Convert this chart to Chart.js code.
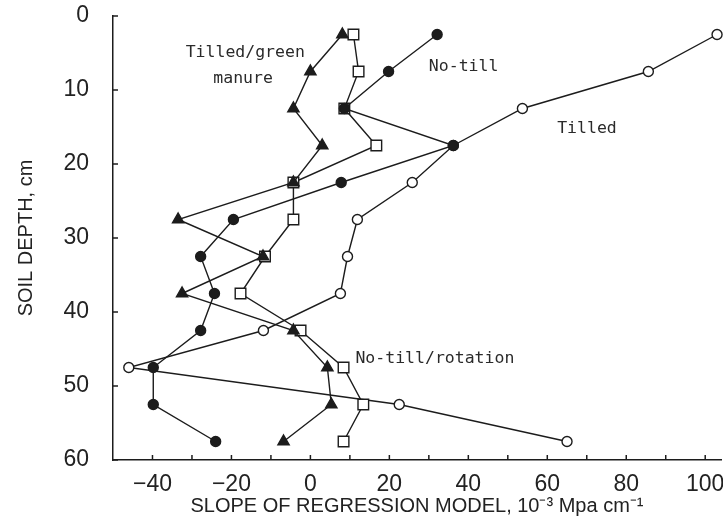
<!DOCTYPE html>
<html>
<head>
<meta charset="utf-8">
<script src="https://cdn.jsdelivr.net/npm/chart.js@4/dist/chart.umd.min.js"></script>
<style>
  html, body { margin: 0; padding: 0; background: #fff; }
  #wrap { width: 723px; height: 520px; }
</style>
</head>
<body>
<div id="wrap"><canvas id="depthChart" width="723" height="520"></canvas></div>
<script>
/* DATA */
const depths = [2.5, 7.5, 12.5, 17.5, 22.5, 27.5, 32.5, 37.5, 42.5, 47.5, 52.5, 57.5];
const tilled = [103, 85.6, 53.7, 36.2, 25.8, 11.9, 9.4, 7.6, -11.9, -46, 22.5, 65];
const noTill = [32.1, 19.8, 8.6, 36.2, 7.8, -19.5, -27.8, -24.3, -27.8, -39.8, -39.8, -24];
const greenManure = [8.1, 0, -4.3, 3, -4.3, -33.5, -12, -32.5, -4.3, 4.3, 5.3, -6.8];
const rotation = [10.9, 12.2, 8.6, 16.7, -4.3, -4.3, -11.5, -17.7, -2.5, 8.4, 13.4, 8.4];

const xTicks = [-40, -20, 0, 20, 40, 60, 80, 100];
const yTicks = [0, 10, 20, 30, 40, 50, 60];

/* in-plot labels, placed in data units */
const notes = [
  { text: "Tilled/green", x: -31.6, y: 4.9 },
  { text: "manure", x: -24.6, y: 8.5 },
  { text: "No-till", x: 30, y: 6.9 },
  { text: "Tilled", x: 62.5, y: 15.2 },
  { text: "No-till/rotation", x: 11.4, y: 46.3 },
];

const ink = "#1c1c1c";
const pts = (vals) => vals.map((v, i) => ({ x: v, y: depths[i] }));

function series(label, vals, style, fill, radius, order) {
  return {
    label,
    data: pts(vals),
    showLine: true,
    borderColor: ink,
    borderWidth: 1.4,
    pointStyle: style,
    pointRadius: radius,
    pointHoverRadius: radius,
    pointBorderWidth: 1.4,
    pointBorderColor: ink,
    pointBackgroundColor: fill,
    order,
  };
}

/* inward tick marks + text notes */
const extras = {
  id: "extras",
  afterDraw(chart) {
    const { ctx, scales } = chart;
    const xs = scales.x, ys = scales.y;
    ctx.save();
    ctx.strokeStyle = ink;
    ctx.lineWidth = 1.5;
    for (let v = -40; v <= 100; v += 10) {
      const px = xs.getPixelForValue(v);
      ctx.beginPath();
      ctx.moveTo(px, ys.bottom);
      ctx.lineTo(px, ys.bottom - 5);
      ctx.stroke();
    }
    yTicks.forEach((v) => {
      const py = ys.getPixelForValue(v);
      ctx.beginPath();
      ctx.moveTo(xs.left, py);
      ctx.lineTo(xs.left + 5, py);
      ctx.stroke();
    });
    ctx.fillStyle = "#2a2a2a";
    ctx.font = '16.5px "DejaVu Sans Mono"';
    ctx.textAlign = "left";
    ctx.textBaseline = "middle";
    notes.forEach((n) => {
      ctx.fillText(n.text, xs.getPixelForValue(n.x), ys.getPixelForValue(n.y));
    });
    ctx.restore();
  },
};

new Chart(document.getElementById("depthChart"), {
  type: "scatter",
  data: {
    datasets: [
      series("Tilled", tilled, "circle", "#fff", 5, 4),
      series("No-till/rotation", rotation, "rect", "#fff", 7.5, 3),
      series("Tilled/green manure", greenManure, "triangle", ink, 6.5, 2),
      series("No-till", noTill, "circle", ink, 5, 1),
    ],
  },
  options: {
    responsive: false,
    animation: false,
    clip: false,
    layout: { autoPadding: false, padding: { top: 16, right: 2, left: 0, bottom: 0 } },
    plugins: { legend: { display: false }, tooltip: { enabled: false } },
    scales: {
      x: {
        type: "linear",
        min: -50,
        max: 104,
        grid: { display: false },
        border: { display: true, color: ink, width: 1.5 },
        afterFit: (s) => {
          s.height = 60;
          s.paddingLeft = 0;
          s.paddingRight = 0;
        },
        ticks: {
          stepSize: 10,
          includeBounds: false,
          autoSkip: false,
          maxRotation: 0,
          padding: 3,
          color: "#222",
          font: { family: "Liberation Sans", size: 23 },
          callback: (v) => (xTicks.includes(v) ? (v < 0 ? "\u2212" + -v : String(v)) : ""),
        },
        title: {
          display: true,
          text: "SLOPE OF REGRESSION MODEL, 10\u207B\u00B3 Mpa cm\u207B\u00B9",
          color: "#222",
          font: { family: "Liberation Sans", size: 20 },
          padding: { top: 0, bottom: 2 },
        },
      },
      y: {
        type: "linear",
        reverse: true,
        min: 0,
        max: 60,
        grid: { display: false },
        border: { display: true, color: ink, width: 1.5 },
        afterFit: (s) => {
          s.width = 113;
          s.paddingTop = 0;
          s.paddingBottom = 0;
        },
        ticks: {
          stepSize: 10,
          padding: 16,
          color: "#222",
          font: { family: "Liberation Sans", size: 23 },
        },
        title: {
          display: true,
          text: "SOIL DEPTH, cm",
          color: "#222",
          font: { family: "Liberation Sans", size: 20 },
          padding: { top: 14, bottom: 0 },
        },
      },
    },
  },
  plugins: [extras],
});
</script>
</body>
</html>
